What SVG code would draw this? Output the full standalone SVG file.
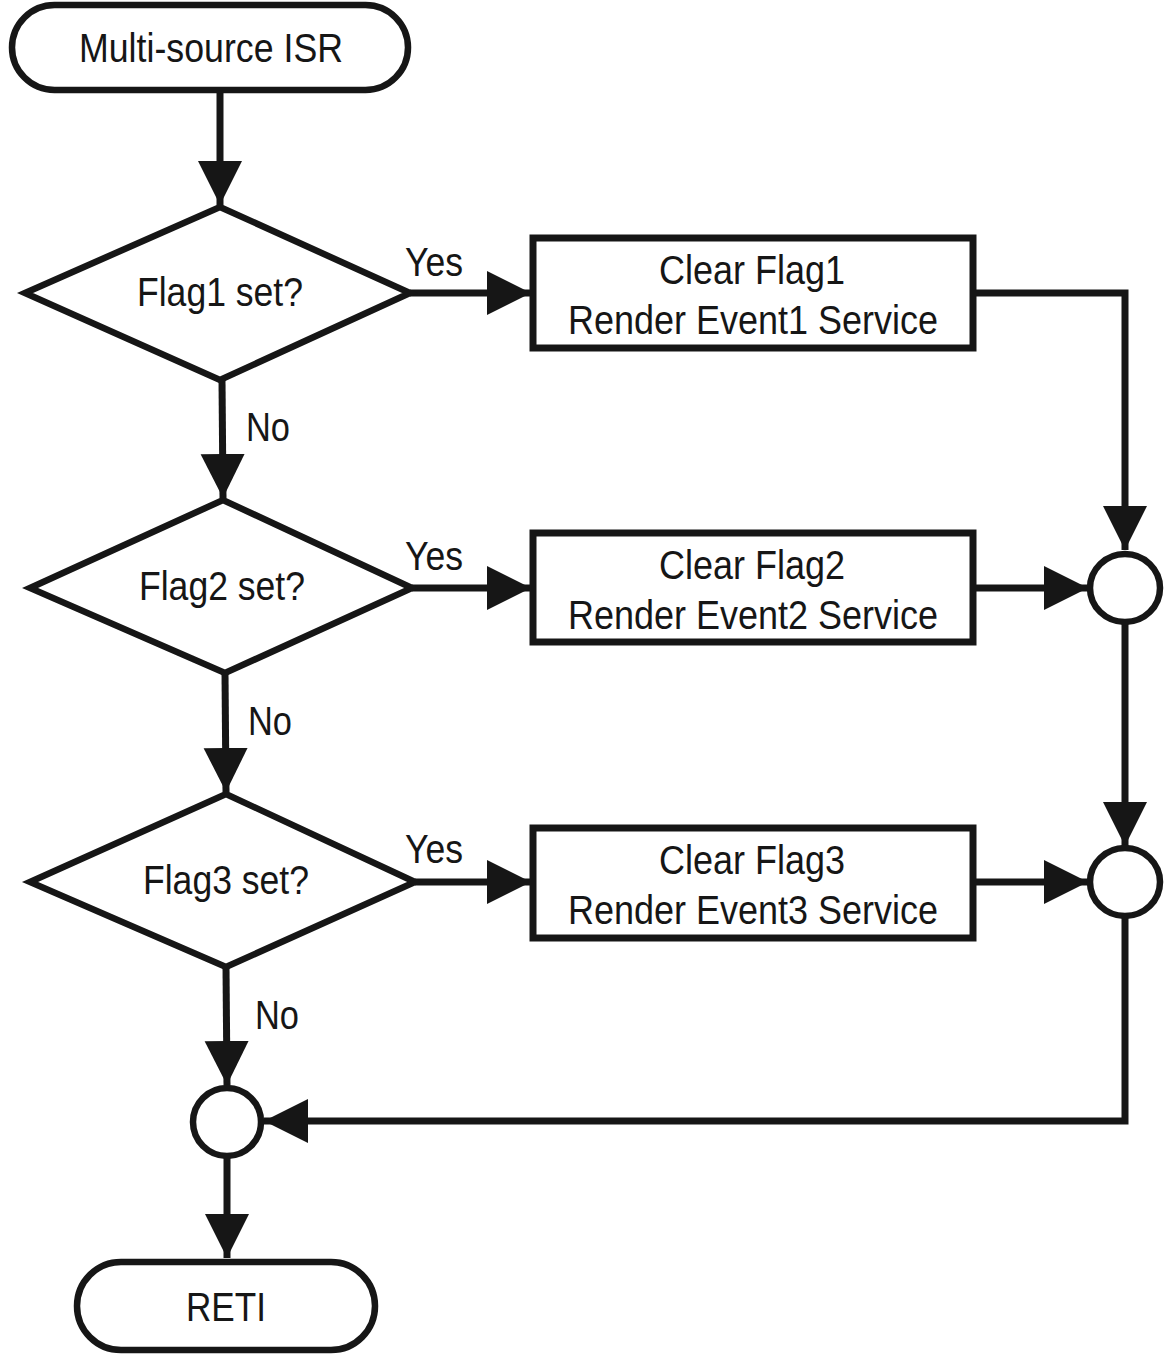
<svg xmlns="http://www.w3.org/2000/svg" width="1169" height="1358" viewBox="0 0 1169 1358">
<style>
.shape{fill:#fff;stroke:#161616;stroke-width:6.5}
.box{fill:#fff;stroke:#161616;stroke-width:7}
.line{fill:none;stroke:#161616;stroke-width:7}
text{font-family:"Liberation Sans",Arial,sans-serif;font-size:40px;fill:#161616;text-anchor:middle}
.lbl{text-anchor:start}
</style>
<defs>
<marker id="ah" markerUnits="userSpaceOnUse" markerWidth="46" markerHeight="46" refX="44" refY="22" orient="auto" viewBox="0 0 46 44">
<path d="M0,0 L44,22 L0,44 Z" fill="#161616"/>
</marker>
</defs>
<rect width="1169" height="1358" fill="#fff"/>
<g id="connectors">
<line class="line" x1="220" y1="90" x2="220" y2="205" marker-end="url(#ah)"/>
<line class="line" x1="410" y1="293" x2="531" y2="293" marker-end="url(#ah)"/>
<line class="line" x1="222" y1="380" x2="223" y2="498" marker-end="url(#ah)"/>
<line class="line" x1="412" y1="588" x2="531" y2="588" marker-end="url(#ah)"/>
<line class="line" x1="225" y1="673" x2="226" y2="792" marker-end="url(#ah)"/>
<line class="line" x1="415" y1="882" x2="531" y2="882" marker-end="url(#ah)"/>
<line class="line" x1="226" y1="967" x2="227" y2="1085" marker-end="url(#ah)"/>
<line class="line" x1="227" y1="1157" x2="227" y2="1258" marker-end="url(#ah)"/>
<polyline class="line" points="973,293 1125,293 1125,550" marker-end="url(#ah)"/>
<line class="line" x1="973" y1="588" x2="1088" y2="588" marker-end="url(#ah)"/>
<line class="line" x1="1125" y1="623" x2="1125" y2="846" marker-end="url(#ah)"/>
<line class="line" x1="973" y1="882" x2="1088" y2="882" marker-end="url(#ah)"/>
<polyline class="line" points="1125,917 1125,1121 264,1121" marker-end="url(#ah)"/>
</g>
<g id="start">
<rect class="shape" x="12" y="5" width="396" height="85" rx="42.5" ry="42.5"/>
<text x="211" y="62" textLength="264" lengthAdjust="spacingAndGlyphs">Multi-source ISR</text>
</g>
<g id="decision1">
<polygon class="shape" points="25,293 220,207 410,293 220,380"/>
<text x="220" y="306" textLength="166" lengthAdjust="spacingAndGlyphs">Flag1 set?</text>
</g>
<g id="decision2">
<polygon class="shape" points="30,588 223,500 412,588 225,673"/>
<text x="222" y="600" textLength="166" lengthAdjust="spacingAndGlyphs">Flag2 set?</text>
</g>
<g id="decision3">
<polygon class="shape" points="30,882 226,794 415,882 226,967"/>
<text x="226" y="894" textLength="166" lengthAdjust="spacingAndGlyphs">Flag3 set?</text>
</g>
<g id="process1">
<rect class="box" x="533" y="238" width="440" height="110"/>
<text x="752" y="284" textLength="186" lengthAdjust="spacingAndGlyphs">Clear Flag1</text>
<text x="753" y="334" textLength="370" lengthAdjust="spacingAndGlyphs">Render Event1 Service</text>
</g>
<g id="process2">
<rect class="box" x="533" y="533" width="440" height="109"/>
<text x="752" y="579" textLength="186" lengthAdjust="spacingAndGlyphs">Clear Flag2</text>
<text x="753" y="629" textLength="370" lengthAdjust="spacingAndGlyphs">Render Event2 Service</text>
</g>
<g id="process3">
<rect class="box" x="533" y="828" width="440" height="110"/>
<text x="752" y="874" textLength="186" lengthAdjust="spacingAndGlyphs">Clear Flag3</text>
<text x="753" y="924" textLength="370" lengthAdjust="spacingAndGlyphs">Render Event3 Service</text>
</g>
<g id="join1">
<ellipse class="shape" cx="1125" cy="588" rx="35" ry="34"/>
</g>
<g id="join2">
<ellipse class="shape" cx="1125" cy="882" rx="35" ry="34"/>
</g>
<g id="join3">
<circle class="shape" cx="227" cy="1122" r="34"/>
</g>
<g id="end">
<rect class="shape" x="77" y="1262" width="298" height="88" rx="44" ry="44"/>
<text x="226" y="1321" textLength="80" lengthAdjust="spacingAndGlyphs">RETI</text>
</g>
<g id="labels">
<text class="lbl" x="405" y="276" textLength="58" lengthAdjust="spacingAndGlyphs">Yes</text>
<text class="lbl" x="246" y="441" textLength="44" lengthAdjust="spacingAndGlyphs">No</text>
<text class="lbl" x="405" y="570" textLength="58" lengthAdjust="spacingAndGlyphs">Yes</text>
<text class="lbl" x="248" y="735" textLength="44" lengthAdjust="spacingAndGlyphs">No</text>
<text class="lbl" x="405" y="863" textLength="58" lengthAdjust="spacingAndGlyphs">Yes</text>
<text class="lbl" x="255" y="1029" textLength="44" lengthAdjust="spacingAndGlyphs">No</text>
</g>
</svg>
